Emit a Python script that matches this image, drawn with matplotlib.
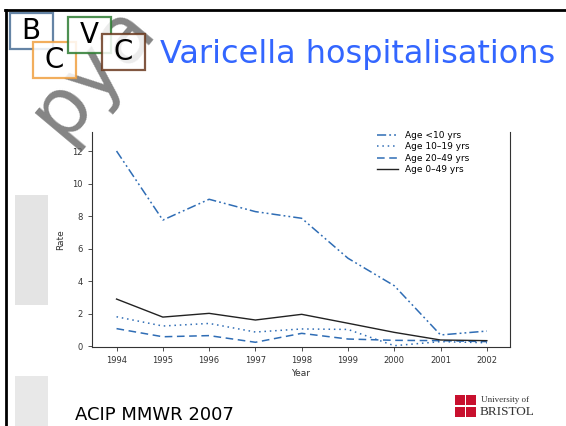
import matplotlib
matplotlib.use("Agg")
import matplotlib.pyplot as plt
from matplotlib.patches import Rectangle
from matplotlib.lines import Line2D

# data
years = [1994, 1995, 1996, 1997, 1998, 1999, 2000, 2001, 2002]
age_lt10 = [12.0, 7.75, 9.03, 8.27, 7.86, 5.4, 3.71, 0.68, 0.92]
age_10_19 = [1.8, 1.23, 1.39, 0.86, 1.05, 1.02, 0.02, 0.27, 0.2]
age_20_49 = [1.07, 0.57, 0.64, 0.23, 0.78, 0.43, 0.35, 0.33, 0.27]
age_0_49 = [2.89, 1.78, 2.01, 1.6, 1.95, 1.4, 0.84, 0.37, 0.33]
labels = ['Age <10 yrs', 'Age 10\u201319 yrs', 'Age 20\u201349 yrs', 'Age 0\u201349 yrs']
yticks = [0, 2, 4, 6, 8, 10, 12]

W, H = 566, 426
fig = plt.figure(figsize=(W / 100, H / 100), dpi=100)
fig.patch.set_facecolor('white')

def fx(px):
    return px / W

def fy(py):
    return 1 - py / H

# slide border (top and left)
fig.add_artist(Line2D([fx(5), 1], [fy(10), fy(10)], color='black', lw=2))
fig.add_artist(Line2D([fx(6), fx(6)], [fy(10), 0], color='black', lw=2))

# blurred blocks on the left
fig.add_artist(Rectangle((fx(15), fy(305)), fx(33), 110 / H, color='#e4e4e4', lw=0))
fig.add_artist(Rectangle((fx(15), fy(426)), fx(33), 50 / H, color='#e8e8e8', lw=0))

# watermark (behind the logo)
fig.text(fx(92), fy(70), 'pya', fontsize=58, color='#666666', alpha=0.8,
         rotation=50, ha='center', va='center', zorder=0)

# logo boxes
boxes = [(10, 13, '#4a6f96', 'B'), (33, 42, '#f0a040', 'C'),
         (68, 17, '#2e7d32', 'V'), (102, 34, '#6b3a1f', 'C')]
for bx, by, col, letter in boxes:
    fig.add_artist(Rectangle((fx(bx), fy(by + 36)), fx(43), 36 / H,
                             facecolor='white', edgecolor=col, lw=1.6, alpha=0.85))
for bx, by, col, letter in boxes:
    fig.text(fx(bx + 21), fy(by + 18), letter, fontsize=20, ha='center', va='center',
             color='black')

fig.text(fx(160), fy(55), 'Varicella hospitalisations', fontsize=23, color='#3366ff',
         ha='left', va='center')

fig.text(fx(75), fy(415), 'ACIP MMWR 2007', fontsize=13, color='black',
         ha='left', va='center')

# university logo
for lx, ly in [(455, 395), (466, 395), (455, 407), (466, 407)]:
    fig.add_artist(Rectangle((fx(lx), fy(ly + 10)), fx(10), 10 / H, color='#c8102e', lw=0))
fig.text(fx(481), fy(400), 'University of', fontsize=6.5, family='Liberation Serif',
         color='#333333', ha='left', va='center')
fig.text(fx(480), fy(412), 'BRISTOL', fontsize=9.5, family='Liberation Serif',
         color='#333333', ha='left', va='center')

# chart
ax = fig.add_axes([fx(92), fy(346.5), fx(510 - 92), (346.5 - 132) / H])
blue = '#2f6db5'
ax.plot(years, age_lt10, color=blue, lw=1.1, dashes=(6, 2, 1.2, 2, 1.2, 2), label=labels[0])
ax.plot(years, age_10_19, color=blue, lw=1.1, dashes=(1, 2.5), label=labels[1])
ax.plot(years, age_20_49, color=blue, lw=1.1, dashes=(5, 3), label=labels[2])
ax.plot(years, age_0_49, color='#222222', lw=1.0, label=labels[3])

ax.set_xlim(1993.47, 2002.5)
ax.set_ylim(-0.03, 13.17)
ax.set_xticks(years)
ax.set_yticks(yticks)
ax.tick_params(labelsize=6, colors='#333333', length=3, width=0.6)
ax.spines['top'].set_visible(False)
for s in ['left', 'bottom', 'right']:
    ax.spines[s].set_linewidth(0.8)
    ax.spines[s].set_color('#333333')
ax.set_xlabel('Year', fontsize=6.5, color='#333333', labelpad=3)
ax.set_ylabel('Rate', fontsize=6.5, color='#333333', labelpad=5)
ax.legend(loc='upper right', bbox_to_anchor=(0.915, 1.025), frameon=False, fontsize=6.5,
          handlelength=2.4, labelspacing=0.25, borderaxespad=0.1)

fig.savefig('out.png', dpi=100)
